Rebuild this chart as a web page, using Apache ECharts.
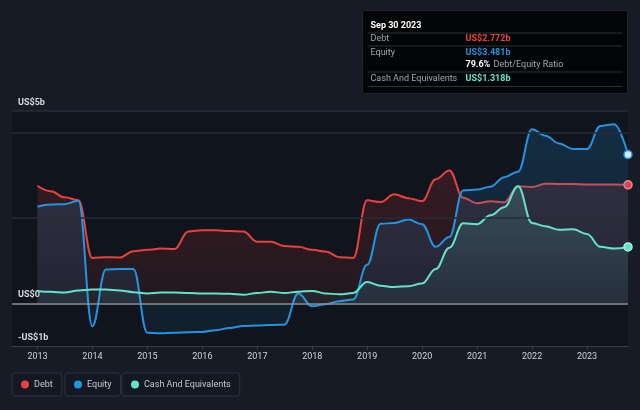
<!DOCTYPE html>
<html>
<head>
<meta charset="utf-8">
<script src="https://cdn.jsdelivr.net/npm/echarts@6/dist/echarts.min.js"></script>
<style>
html,body{margin:0;padding:0;background:#161b26;}
#c{width:640px;height:410px;}
</style>
</head>
<body>
<div id="c"></div>
<script>
// ---- data ----
const quarters = ['2012-12-31','2013-03-31','2013-06-30','2013-09-30','2013-12-31','2014-03-31','2014-06-30','2014-09-30','2014-12-31',
 '2015-03-31','2015-06-30','2015-09-30','2015-12-31','2016-03-31','2016-06-30','2016-09-30','2016-12-31',
 '2017-03-31','2017-06-30','2017-09-30','2017-12-31','2018-03-31','2018-06-30','2018-09-30','2018-12-31',
 '2019-03-31','2019-06-30','2019-09-30','2019-12-31','2020-03-31','2020-06-30','2020-09-30','2020-12-31',
 '2021-03-31','2021-06-30','2021-09-30','2021-12-31','2022-03-31','2022-06-30','2022-09-30','2022-12-31',
 '2023-03-31','2023-06-30','2023-09-30'];
const debt = [2.75,2.62,2.48,2.41,1.06,1.08,1.07,1.22,1.25,1.28,1.27,1.68,1.71,1.71,1.69,1.68,1.44,1.44,1.34,1.32,1.25,1.21,1.08,1.06,2.41,2.37,2.55,2.46,2.39,2.90,3.11,2.47,2.34,2.39,2.36,2.74,2.72,2.80,2.79,2.79,2.78,2.78,2.78,2.772];
const equity = [2.26,2.31,2.32,2.40,-0.54,0.79,0.80,0.80,-0.69,-0.70,-0.69,-0.68,-0.67,-0.63,-0.58,-0.53,-0.52,-0.51,-0.50,0.23,-0.07,-0.02,0.05,0.09,0.90,1.86,1.88,1.96,1.85,1.32,1.55,2.64,2.66,2.73,2.95,3.08,4.07,3.92,3.74,3.61,3.61,4.15,4.19,3.481];
const cash = [0.29,0.27,0.25,0.30,0.32,0.32,0.30,0.26,0.23,0.25,0.25,0.24,0.23,0.23,0.22,0.20,0.24,0.27,0.24,0.27,0.29,0.23,0.21,0.24,0.50,0.41,0.38,0.40,0.46,0.80,1.30,1.87,1.85,2.06,2.25,2.74,1.88,1.80,1.72,1.73,1.62,1.32,1.28,1.318];
const yearTicks = [2013,2014,2015,2016,2017,2018,2019,2020,2021,2022,2023];
const yTickValues = [-1, 0, 4.5];
const yTickLabels = ['-US$1b', 'US$0', 'US$5b'];
const gridValues = [2, 4, 4.5];
const xStartYear = 2012.536;
const tooltipDate = 'Sep 30 2023';

// ---- chart ----
const C = {debt:'#e8413e', equity:'#2394e2', cash:'#62e3cc'};
const FONT = 'Roboto, "Noto Sans", sans-serif';
const chart = echarts.init(document.getElementById('c'), null, {renderer:'canvas'});
function decYear(s) {
  const d = new Date(s + 'T00:00:00Z');
  const y = d.getUTCFullYear();
  const a = Date.UTC(y,0,1), b = Date.UTC(y+1,0,1);
  return y + (d.getTime() - a) / (b - a);
}
const xs = quarters.map(decYear);
const xEnd = xs[xs.length-1];
const toPairs = arr => arr.map((v,i) => [xs[i], v]);
function withEnd(arr, color, fill) {
  const d = toPairs(arr);
  const last = d.length - 1;
  d[last] = {value: d[last], symbol:'circle', symbolSize:8,
    itemStyle:{color: fill, borderColor: color, borderWidth:1.5, opacity:1}};
  return d;
}
function grad(rgb, a1, a2) {
  return new echarts.graphic.LinearGradient(0,0,0,1,[
    {offset:0, color:'rgba('+rgb+','+a1+')'},
    {offset:1, color:'rgba('+rgb+','+a2+')'}]);
}
const yLabelMap = {};
yTickValues.forEach((v,i)=>{ yLabelMap[v] = yTickLabels[i]; });

const lastDebt = debt[debt.length-1], lastEq = equity[equity.length-1], lastCash = cash[cash.length-1];
const ratio = (lastDebt/lastEq*100).toFixed(1) + '%';
const fmt = v => 'US$' + v.toFixed(3) + 'b';

const lineCommon = {type:'line', smooth:0.4, smoothMonotone:'x', showSymbol:true, symbol:'none',
  emphasis:{disabled:true}, silent:true, clip:true};

const legendCommon = {top:373, orient:'horizontal', icon:'circle', itemWidth:8, itemHeight:8,
  padding:[7,9,7,9], borderColor:'#2c323e', borderWidth:1, borderRadius:3, backgroundColor:'#131822',
  textStyle:{color:'#c7cad0', fontSize:9, fontFamily:FONT}, selectedMode:false};

const TF = '9px ' + FONT, TFB = 'bold 9px ' + FONT;
const option = {
  backgroundColor:'#161b26',
  animation:false,
  textStyle:{fontFamily:FONT},
  grid:{left:12, right:12, top:111, bottom:64, show:true, borderWidth:0,
    backgroundColor:'#10141c'},
  xAxis:{type:'value', min:xStartYear, max:xEnd,
    axisLine:{show:true, onZero:false, lineStyle:{color:'#373d4a', width:1}},
    axisTick:{show:true, length:4, lineStyle:{color:'#373d4a'}, customValues: yearTicks},
    axisLabel:{color:'#d0d3d8', fontSize:9, margin:6, fontFamily:FONT,
      customValues: yearTicks, formatter: v => String(Math.round(v))},
    splitLine:{show:false}},
  yAxis:{type:'value', min:-1, max:4.5,
    axisLine:{show:false}, axisTick:{show:false}, splitLine:{show:false},
    axisLabel:{inside:true, margin:6, color:'#d8dade', fontSize:9, fontWeight:'bold', fontFamily:FONT,
      verticalAlign:'bottom', padding:[0,0,4,0],
      customValues: yTickValues,
      formatter: v => yLabelMap[v] !== undefined ? yLabelMap[v] : ''}},
  legend:[
    Object.assign({}, legendCommon, {left:12, data:[{name:'Debt', itemStyle:{color:C.debt}}]}),
    Object.assign({}, legendCommon, {left:65, data:[{name:'Equity', itemStyle:{color:C.equity}}]}),
    Object.assign({}, legendCommon, {left:122, data:[{name:'Cash And Equivalents', itemStyle:{color:C.cash}}]})
  ],
  series:[
    Object.assign({}, lineCommon, {name:'Debt', data:withEnd(debt, '#f08a8a', C.debt), z:2,
      itemStyle:{color:C.debt}, lineStyle:{width:2, color:C.debt},
      areaStyle:{color:grad('232,65,62',0.24,0.12), origin:0},
      markLine:{silent:true, symbol:'none', label:{show:false}, animation:false,
        data: gridValues.map(v=>({yAxis:v, lineStyle:{color:'#262c38', width:1.5, type:'solid'}}))
          .concat([{yAxis:0, lineStyle:{color:'#8a8f98', width:1.5, type:'solid'}}])}}),
    Object.assign({}, lineCommon, {name:'Equity', data:withEnd(equity, '#2394e2', '#d6ebfa'), z:3,
      itemStyle:{color:C.equity}, lineStyle:{width:2, color:C.equity},
      areaStyle:{color:grad('35,148,226',0.28,0.12), origin:0}}),
    Object.assign({}, lineCommon, {name:'Cash And Equivalents', data:withEnd(cash, '#a8f2e4', C.cash), z:4,
      itemStyle:{color:C.cash}, lineStyle:{width:2, color:C.cash},
      areaStyle:{color:grad('98,227,204',0.24,0.08), origin:0}})
  ],
  graphic:[{
    type:'group', left:362, top:10, silent:true,
    children:[
      {type:'rect', shape:{x:0,y:0,width:265,height:83,r:2}, style:{fill:'#030405', stroke:'#1f232a', lineWidth:1}},
      {type:'text', x:8, y:15, style:{text:tooltipDate, fill:'#ffffff', font:TFB, verticalAlign:'middle'}},
      {type:'line', shape:{x1:5,y1:22.5,x2:260,y2:22.5}, style:{stroke:'#2e3239', lineWidth:1}},
      {type:'text', x:8, y:28.5, style:{text:'Debt', fill:'#a4a7ad', font:TF, verticalAlign:'middle'}},
      {type:'text', x:103, y:28.5, style:{text:fmt(lastDebt), fill:C.debt, font:TFB, verticalAlign:'middle'}},
      {type:'line', shape:{x1:5,y1:35.5,x2:260,y2:35.5}, style:{stroke:'#2e3239', lineWidth:1}},
      {type:'text', x:8, y:42, style:{text:'Equity', fill:'#a4a7ad', font:TF, verticalAlign:'middle'}},
      {type:'text', x:103, y:42, style:{text:fmt(lastEq), fill:C.equity, font:TFB, verticalAlign:'middle'}},
      {type:'text', x:103, y:54.5, style:{rich:{b:{fill:'#ffffff', font:TFB}, n:{fill:'#a4a7ad', font:TF}},
        text:'{b|'+ratio+'} {n|Debt/Equity Ratio}', verticalAlign:'middle'}},
      {type:'line', shape:{x1:5,y1:61.5,x2:260,y2:61.5}, style:{stroke:'#2e3239', lineWidth:1}},
      {type:'text', x:8, y:68, style:{text:'Cash And Equivalents', fill:'#a4a7ad', font:TF, verticalAlign:'middle'}},
      {type:'text', x:103, y:68, style:{text:fmt(lastCash), fill:C.cash, font:TFB, verticalAlign:'middle'}},
      {type:'line', shape:{x1:5,y1:76,x2:260,y2:76}, style:{stroke:'#2e3239', lineWidth:1}}
    ]
  }]
};
chart.setOption(option);
</script>
</body>
</html>
